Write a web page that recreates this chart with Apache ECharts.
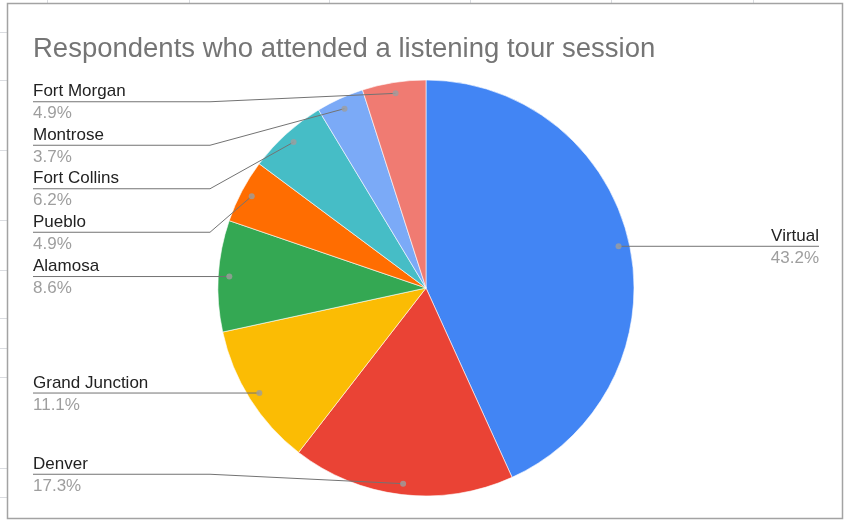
<!DOCTYPE html>
<html><head><meta charset="utf-8">
<script src="https://cdn.jsdelivr.net/npm/echarts@6/dist/echarts.min.js"></script>
<style>html,body{margin:0;padding:0;background:#fff}#c{width:845px;height:520px}</style>
</head><body><div id="c"></div>
<script>
const chartTitle = 'Respondents who attended a listening tour session';
const categories = ['Virtual', 'Denver', 'Grand Junction', 'Alamosa', 'Pueblo', 'Fort Collins', 'Montrose', 'Fort Morgan'];
const counts = [35, 14, 9, 7, 4, 5, 3, 4];
const colors = ['#4285F4', '#EA4335', '#FBBC04', '#34A853', '#FF6D01', '#46BDC6', '#7BAAF7', '#F07B72'];

const W = 845, H = 520;
const CX = 426, CY = 288, R = 208, DOT_R = 197;
const LEFT_X = 33, RIGHT_X = 819, BEND = 210, LABEL_H = 43.5;
const FONT = '"Liberation Sans", Arial, sans-serif';
const total = counts.reduce((a, b) => a + b, 0);

// mid value of every slice (cumulative), and the anchor point of its label line
const mids = [];
let acc = 0;
counts.forEach(v => { mids.push(acc + v / 2); acc += v; });
const anchors = mids.map(m => {
  const t = m / total * Math.PI * 2;
  return [CX + DOT_R * Math.sin(t), CY - DOT_R * Math.cos(t)];
});

// vertical placement of labels on each side, kept inside the pie's height
const labelY = [];
function place(side) {
  const idx = anchors.map((a, i) => i).filter(i => side(anchors[i][0]))
    .sort((a, b) => anchors[a][1] - anchors[b][1]);
  const top = CY - R + LABEL_H / 2, bot = CY + R - LABEL_H / 2;
  let prev = -Infinity;
  idx.forEach(i => { const y = Math.max(anchors[i][1], prev + LABEL_H, top); labelY[i] = y; prev = y; });
  let next = Infinity;
  idx.slice().reverse().forEach(i => { const y = Math.min(labelY[i], next - LABEL_H, bot); labelY[i] = y; next = y; });
}
place(x => x < CX);
place(x => x >= CX);

const gridX = [47, 189, 329, 470, 611, 753];
const gridY = [32, 80, 150, 220, 270, 318, 348, 377, 468, 497];
const graphics = [];
gridX.forEach(x => graphics.push({type: 'line', shape: {x1: x + 0.5, y1: 0, x2: x + 0.5, y2: 3}, style: {stroke: '#dadce0', lineWidth: 1}, silent: true}));
gridY.forEach(y => graphics.push({type: 'line', shape: {x1: 0, y1: y + 0.5, x2: 7, y2: y + 0.5}, style: {stroke: '#dadce0', lineWidth: 1}, silent: true}));
graphics.push({type: 'rect', shape: {x: 7.5, y: 3.5, width: 835, height: 515}, style: {fill: 'none', stroke: '#a3a3a3', lineWidth: 1.5}, silent: true, z: 100});

const chart = echarts.init(document.getElementById('c'), null, {renderer: 'canvas'});
const option = {
  animation: false,
  backgroundColor: '#fff',
  title: {
    text: chartTitle, left: 33, top: 35, padding: 0,
    textStyle: {fontFamily: FONT, fontSize: 27.5, fontWeight: 'normal', color: '#757575'}
  },
  polar: {center: [CX, CY], radius: R},
  angleAxis: {type: 'value', min: 0, max: total, startAngle: 90, clockwise: true, show: false},
  radiusAxis: {type: 'value', min: 0, max: R, show: false},
  graphic: graphics,
  series: [
    {
      type: 'pie', z: 2, center: [CX, CY], radius: R, startAngle: 90, clockwise: true,
      silent: true, label: {show: false}, labelLine: {show: false},
      itemStyle: {borderColor: '#ffffff', borderWidth: 0.6},
      data: categories.map((n, i) => ({name: n, value: counts[i], itemStyle: {color: colors[i]}}))
    },
    {
      type: 'pie', z: 5, center: [CX, CY], radius: DOT_R, startAngle: 90, clockwise: true,
      silent: true, avoidLabelOverlap: false,
      itemStyle: {color: 'rgba(0,0,0,0)', borderWidth: 0},
      emphasis: {disabled: true},
      label: {
        show: true, position: 'outside', alignTo: 'edge', edgeDistance: 26, verticalAlign: 'middle',
        fontFamily: FONT,
        formatter: p => '{n|' + p.name + '}\n{p|' + p.percent.toFixed(1) + '%}',
        rich: {
          n: {fontFamily: FONT, fontSize: 17, color: '#222222', lineHeight: 24},
          p: {fontFamily: FONT, fontSize: 17, color: '#9e9e9e', lineHeight: 20}
        }
      },
      labelLine: {show: true, length: 0, length2: 0, lineStyle: {color: '#737373', width: 1}},
      labelLayout: function (p) {
        const i = p.dataIndex;
        const a = anchors[i];
        const y = labelY[i];
        if (a[0] < CX) {
          const bx = Math.min(BEND, a[0]);
          return {x: LEFT_X, y: y, labelLinePoints: [a.slice(), [bx, y], [LEFT_X, y]]};
        }
        const bx = Math.max(2 * CX - BEND, a[0]);
        return {x: RIGHT_X, y: y, labelLinePoints: [a.slice(), [bx, y], [RIGHT_X, y]]};
      },
      data: categories.map((n, i) => ({name: n, value: counts[i]}))
    },
    {
      type: 'scatter', coordinateSystem: 'polar', silent: true, z: 10,
      symbolSize: 6, itemStyle: {color: '#9e9e9e'},
      data: mids.map(m => [DOT_R, m])
    }
  ]
};
chart.setOption(option);
</script>
</body></html>
